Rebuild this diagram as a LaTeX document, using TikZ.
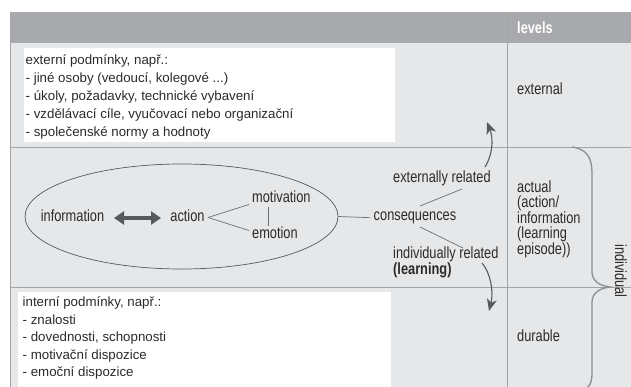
\documentclass[tikz,border=0pt]{standalone}
\usepackage{fontspec}
\setmainfont{Liberation Sans}
\newfontfamily\condfont{Liberation Sans}[FakeStretch=0.79]
\usetikzlibrary{shapes.geometric,arrows.meta}
\definecolor{hdr}{HTML}{A7A9AC}
\definecolor{bodybg}{HTML}{E6E7E8}
\definecolor{sepline}{HTML}{A3A4A6}
\definecolor{ink}{HTML}{2B2B2B}
\definecolor{arrowgray}{HTML}{58595B}
\definecolor{thinline}{HTML}{6D6E70}
\definecolor{bracegray}{HTML}{8C8D8F}
\begin{document}
\begin{tikzpicture}[x=1pt,y=-1pt,
  boxtxt/.style={font=\fontsize{13.3}{18}\selectfont, text=ink, inner sep=0pt, anchor=base west},
  lbl/.style={font=\condfont\fontsize{16.2}{15.5}\selectfont, text=ink, inner sep=0pt},
  sep/.style={draw=sepline, line width=0.9pt},
  thin/.style={draw=thinline, line width=0.7pt},
  curvearr/.style={draw=arrowgray, line width=1.1pt, -{Stealth[length=12pt,width=10pt,inset=3.5pt]}},
  dblarr/.style={draw=arrowgray, line width=4.5pt, {Triangle[length=10pt,width=13pt]}-{Triangle[length=10pt,width=13pt]}}]
\useasboundingbox (0,0) rectangle (631,387);
\clip (0,0) rectangle (631,387);
% backgrounds
\fill[hdr] (10,12) rectangle (631,43);
\fill[bodybg] (10,43) rectangle (631,387);
\fill[white] (24,48) rectangle (395,142);
\fill[white] (18,292) rectangle (391,390);
% grid lines
\draw[sep] (10,147) -- (631,147);
\draw[sep] (10,287) -- (631,287);
\draw[sep] (507,12) -- (507,390);
\draw[sep] (10,43) -- (10,390);
% header
\node[lbl, font=\condfont\bfseries\fontsize{16.2}{15.5}\selectfont, text=white, anchor=base west] (levels) at (517,34) {levels};
% external conditions box
\node[boxtxt] (e1) at (25.5,64.5) {externí podmínky, např.:};
\node[boxtxt] (e2) at (25.5,82.5) {- jiné osoby (vedoucí, kolegové ...)};
\node[boxtxt] (e3) at (25.5,100.5) {- úkoly, požadavky, technické vybavení};
\node[boxtxt] (e4) at (25.5,118.5) {- vzdělávací cíle, vyučovací nebo organizační};
\node[boxtxt] (e5) at (25.5,136.5) {- společenské normy a hodnoty};
% internal conditions box
\node[boxtxt] (i1) at (22.5,306.5) {interní podmínky, např.:};
\node[boxtxt] (i2) at (22.5,324) {- znalosti};
\node[boxtxt] (i3) at (22.5,341.5) {- dovednosti, schopnosti};
\node[boxtxt] (i4) at (22.5,359) {- motivační dispozice};
\node[boxtxt] (i5) at (22.5,376.5) {- emoční dispozice};
% ellipse
\node[ellipse, draw=arrowgray, line width=0.7pt, minimum width=313pt, minimum height=105pt, inner sep=0pt] (ell) at (181.5,216.5) {};
\node[lbl, anchor=base] (info) at (72.5,222) {information};
\node[lbl, anchor=base] (action) at (187.5,222) {action};
\node[lbl, anchor=base west] (motiv) at (252,203) {motivation};
\node[lbl, anchor=base west] (emo) at (252,238) {emotion};
\coordinate (da) at (114,218);
\coordinate (db) at (161,218);
\draw[dblarr] (da) -- (db);
\coordinate (ac) at (208,217.5);
\coordinate (mo) at (249,204.5);
\coordinate (em) at (249,230.5);
\draw[thin] (ac) -- (mo);
\draw[thin] (ac) -- (em);
\coordinate (mv1) at (268,207);
\coordinate (mv2) at (268,226);
\draw[thin] (mv1) -- (mv2);
% consequences
\node[lbl, anchor=base] (cons) at (415,220.5) {consequences};
\draw[thin, shorten >=3.5pt] (ell.east) -- (cons.west);
\node[lbl, anchor=base west] (extrel) at (393,182.5) {externally related};
\node[lbl, anchor=west, align=left, font=\condfont\fontsize{16.2}{14}\selectfont] (indrel) at (393,262) {individually related\\\textbf{(learning)}};
\coordinate (c1) at (420,206);
\coordinate (c2) at (462,189);
\coordinate (c3) at (420,227);
\coordinate (c4) at (463,248);
\draw[thin] (c1) -- (c2);
\draw[thin] (c3) -- (c4);
\coordinate (u0) at (485,167);
\coordinate (u1) at (487,122);
\draw[curvearr] (u0) .. controls (492,156) and (494,140) .. (u1);
\coordinate (d0) at (482,263);
\coordinate (d1) at (489,311);
\draw[curvearr] (d0) .. controls (490,272) and (494,291) .. (d1);
% levels column
\node[lbl, anchor=base west] (external) at (517,94.5) {external};
\node[lbl, anchor=west, align=left] (actual) at (517,219) {actual\\(action/\\information\\(learning\\episode))};
\node[lbl, anchor=base west] (durable) at (517,341) {durable};
% brace
\draw[draw=bracegray, line width=1.3pt]
  (572,147) .. controls (587,149) and (592,158) .. (592,173)
  -- (592,272) .. controls (592,281) and (600,286) .. (610,287)
  .. controls (600,288) and (592,293) .. (592,302)
  -- (592,374) .. controls (592,385) and (588,390) .. (575,393);
\node[lbl, rotate=-90] (indiv) at (621,271) {individual};
\end{tikzpicture}
\end{document}
